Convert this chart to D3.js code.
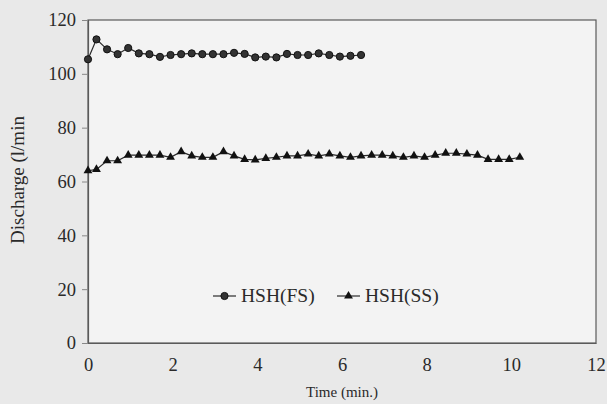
<!DOCTYPE html>
<html>
<head>
<meta charset="utf-8">
<script src="https://cdn.jsdelivr.net/npm/d3@7"></script>
<style>
  body { margin: 0; background: #e9e9e9; }
  svg { display: block; }
</style>
</head>
<body>
<svg id="chart"></svg>
<script>
"use strict";

// time points (min.) and discharge (l/min)
let timeFS = [0, 0.2, 0.45, 0.7, 0.95, 1.2, 1.45, 1.7, 1.95, 2.2, 2.45, 2.7, 2.95, 3.2,
  3.45, 3.7, 3.95, 4.2, 4.45, 4.7, 4.95, 5.2, 5.45, 5.7, 5.95, 6.2, 6.45];
let dischargeFS = [105.4, 112.8, 109.1, 107.3, 109.6, 107.6, 107.3, 106.3, 107.0, 107.3, 107.6, 107.3, 107.3, 107.3,
  107.8, 107.4, 106.1, 106.4, 106.1, 107.4, 107.0, 107.0, 107.6, 107.0, 106.4, 106.7, 107.0];

let timeSS = [0, 0.2, 0.45, 0.7, 0.95, 1.2, 1.45, 1.7, 1.95, 2.2, 2.45, 2.7, 2.95, 3.2,
  3.45, 3.7, 3.95, 4.2, 4.45, 4.7, 4.95, 5.2, 5.45, 5.7, 5.95, 6.2, 6.45,
  6.7, 6.95, 7.2, 7.45, 7.7, 7.95, 8.2, 8.45, 8.7, 8.95, 9.2, 9.45, 9.7, 9.95, 10.2];
let dischargeSS = [64.0, 64.5, 67.7, 67.7, 69.8, 69.8, 69.8, 69.8, 69.0, 71.1, 69.5, 69.0, 69.0, 71.1,
  69.5, 68.2, 68.0, 68.6, 69.0, 69.5, 69.5, 70.2, 69.5, 70.2, 69.5, 69.0, 69.5,
  69.8, 69.8, 69.5, 69.0, 69.5, 69.0, 69.8, 70.5, 70.5, 70.2, 69.8, 68.2, 68.2, 68.2, 69.0];

let xTicks = [0, 2, 4, 6, 8, 10, 12];
let yTicks = [0, 20, 40, 60, 80, 100, 120];
let seriesNames = ["HSH(FS)", "HSH(SS)"];

let W = 607, H = 404;
let m = { left: 88, right: 11, top: 20, bottom: 61 };
let font = "'Liberation Serif', 'Times New Roman', serif";
let ink = "#2a2a2a";

let svg = d3.select("#chart").attr("width", W).attr("height", H);
svg.append("rect").attr("width", W).attr("height", H).attr("fill", "#e9e9e9");

let x = d3.scaleLinear().domain([0, 12]).range([m.left, W - m.right]);
let y = d3.scaleLinear().domain([0, 120]).range([H - m.bottom, m.top]);

// plot frame
svg.append("rect")
  .attr("x", x(0)).attr("y", y(120))
  .attr("width", x(12) - x(0)).attr("height", y(0) - y(120))
  .attr("fill", "#f3f3f3").attr("stroke", "#5a5a5a").attr("stroke-width", 1.2);

let yAxis = svg.append("g")
  .attr("transform", `translate(${x(0)},0)`)
  .call(d3.axisLeft(y).tickValues(yTicks).tickSize(6).tickPadding(6));
let xAxis = svg.append("g")
  .attr("transform", `translate(0,${y(0)})`)
  .call(d3.axisBottom(x).tickValues(xTicks).tickSize(0).tickPadding(15));

[yAxis, xAxis].forEach((g) => {
  g.attr("font-family", font);
  g.select(".domain").attr("stroke", "#5a5a5a").attr("stroke-width", 1.2);
  g.selectAll(".tick line").attr("stroke", "#888");
  g.selectAll("text").attr("font-family", font).attr("font-size", 18.5).attr("fill", ink);
});

// axis titles
svg.append("text")
  .attr("x", x(6)).attr("y", 397)
  .attr("text-anchor", "middle")
  .attr("font-family", font).attr("font-size", 15).attr("fill", ink)
  .text("Time (min.)");

svg.append("text")
  .attr("transform", "translate(24,180) rotate(-90)")
  .attr("text-anchor", "middle")
  .attr("font-family", font).attr("font-size", 19).attr("fill", ink)
  .text("Discharge (l/min");

let line = d3.line().x((d) => x(d[0])).y((d) => y(d[1]));
let fsPts = d3.zip(timeFS, dischargeFS);
let ssPts = d3.zip(timeSS, dischargeSS);
let tri = d3.symbol().type(d3.symbolTriangle).size(34);

svg.append("path").datum(fsPts).attr("d", line)
  .attr("fill", "none").attr("stroke", ink).attr("stroke-width", 1.2);
svg.selectAll(".fs").data(fsPts).enter().append("circle")
  .attr("class", "fs")
  .attr("cx", (d) => x(d[0])).attr("cy", (d) => y(d[1])).attr("r", 3.6)
  .attr("fill", "#333").attr("stroke", "#111").attr("stroke-width", 1);

svg.append("path").datum(ssPts).attr("d", line)
  .attr("fill", "none").attr("stroke", ink).attr("stroke-width", 1.2);
svg.selectAll(".ss").data(ssPts).enter().append("path")
  .attr("class", "ss")
  .attr("transform", (d) => `translate(${x(d[0])},${y(d[1])})`)
  .attr("d", tri).attr("fill", "#111");

// legend
let lg = svg.append("g").attr("transform", "translate(213,296)");
let items = lg.selectAll("g").data(seriesNames).enter().append("g")
  .attr("transform", (d, i) => `translate(${i * 124},0)`);
items.append("line").attr("x1", 0).attr("x2", 23).attr("stroke", ink).attr("stroke-width", 1.2);
items.filter((d, i) => i === 0).append("circle")
  .attr("cx", 11.5).attr("r", 3.6).attr("fill", "#333").attr("stroke", "#111");
items.filter((d, i) => i === 1).append("path")
  .attr("transform", "translate(11.5,0)").attr("d", tri).attr("fill", "#111");
items.append("text")
  .attr("x", 28).attr("y", 6)
  .attr("font-family", font).attr("font-size", 19.5).attr("fill", ink)
  .text((d) => d);
</script>
</body>
</html>
